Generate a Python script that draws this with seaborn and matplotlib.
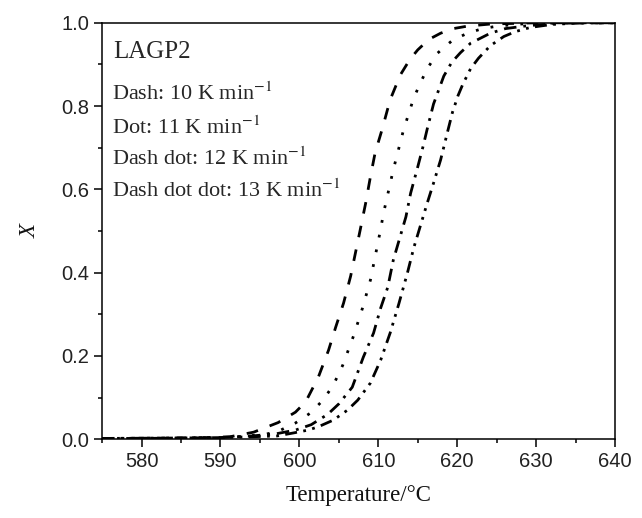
import matplotlib
matplotlib.use("Agg")
import matplotlib.pyplot as plt
import seaborn as sns
import pandas as pd
from matplotlib.ticker import MultipleLocator, FormatStrFormatter

# ---- data ----
t_10 = [575, 580, 585, 588, 591.2, 594.2, 597.3, 599.5, 600.8, 602.4, 603.7, 604.6, 605.6,
        606.5, 607.7, 608.4, 609.0, 609.6, 610.5, 611.5, 612.8, 614.0, 615.0, 616.4, 617.9,
        619.5, 621.3, 624.2, 630, 640]
x_10 = [0.002, 0.002, 0.003, 0.004, 0.006, 0.017, 0.040, 0.065, 0.090, 0.149, 0.214, 0.269, 0.327,
        0.392, 0.502, 0.567, 0.630, 0.688, 0.745, 0.815, 0.875, 0.912, 0.935, 0.960, 0.975,
        0.986, 0.992, 0.997, 1.0, 1.0]

t_11 = [575, 585, 590, 593, 595.7, 597.3, 599.5, 601.4, 603.0, 604.3, 605.5, 606.9, 608.0,
        609.0, 610.2, 610.7, 611.9, 613.2, 614.5, 615.4, 616.2, 617.5, 619.4, 621.3, 623.2,
        625.1, 628, 633, 640]
x_11 = [0.002, 0.003, 0.004, 0.007, 0.012, 0.019, 0.039, 0.063, 0.094, 0.130, 0.178, 0.250, 0.315,
        0.382, 0.495, 0.546, 0.647, 0.743, 0.820, 0.858, 0.890, 0.927, 0.958, 0.975, 0.986,
        0.992, 0.997, 1.0, 1.0]

t_12 = [575, 585, 590, 594, 597, 599.5, 601.5, 603.6, 605.0, 606.7, 608.1, 609.4, 610.3, 611.2,
        611.9, 613.5, 614.1, 615.0, 615.7, 616.2, 617.0, 618.3, 619.3, 620.4, 621.7, 624.2,
        626.1, 628.9, 633, 640]
x_12 = [0.002, 0.003, 0.004, 0.008, 0.013, 0.022, 0.035, 0.060, 0.085, 0.125, 0.197, 0.255, 0.315, 0.365,
        0.430, 0.534, 0.591, 0.654, 0.705, 0.745, 0.805, 0.872, 0.905, 0.928, 0.951, 0.975,
        0.986, 0.993, 0.999, 1.0]

t_13 = [575, 585, 590, 594, 597.2, 599.2, 601.1, 602.4, 604.3, 606.1, 607.4, 609.0, 610.3, 611.5,
        612.6, 613.7, 614.5, 616.2, 617.0, 617.9, 618.8, 619.4, 620.1, 620.7, 621.7, 622.7, 624.2,
        625.9, 627.4, 629.3, 632, 636, 640]
x_13 = [0.002, 0.003, 0.004, 0.006, 0.008, 0.015, 0.022, 0.030, 0.046, 0.070, 0.094, 0.135, 0.190, 0.255,
        0.325, 0.400, 0.460, 0.567, 0.615, 0.671, 0.740, 0.785, 0.825, 0.852, 0.890, 0.915, 0.945,
        0.967, 0.979, 0.989, 0.996, 1.0, 1.0]

rates = ["10", "11", "12", "13"]
label_lines = [r"Dash: 10 K min$^{-1}$", r"Dot: 11 K min$^{-1}$",
               r"Dash dot: 12 K min$^{-1}$", r"Dash dot dot: 13 K min$^{-1}$"]
x_ticks = [580, 590, 600, 610, 620, 630, 640]
y_ticks = [0.0, 0.2, 0.4, 0.6, 0.8, 1.0]

frames = []
for r, t, x in zip(rates, [t_10, t_11, t_12, t_13], [x_10, x_11, x_12, x_13]):
    frames.append(pd.DataFrame({"T": t, "X": x, "rate": r}))
df = pd.concat(frames, ignore_index=True)

# ---- style ----
sns.set_theme(style="ticks")
plt.rcParams["font.family"] = ["Liberation Sans", "DejaVu Sans"]
plt.rcParams["mathtext.fontset"] = "stix"
plt.rcParams["axes.linewidth"] = 1.1
plt.rcParams["xtick.direction"] = "out"
plt.rcParams["ytick.direction"] = "out"

fig = plt.figure(figsize=(6.42, 5.18), dpi=100)
ax = fig.add_axes([0.159, 0.152, 0.799, 0.804])

dash_map = {"10": (4.2, 4.5), "11": (1.0, 4.4),
            "12": (4.5, 2.5, 1.0, 2.5), "13": (4.3, 2.3, 1.0, 2.3, 1.0, 2.3)}
sns.lineplot(data=df, x="T", y="X", style="rate", dashes=dash_map, color="black",
             linewidth=2.0, estimator=None, legend=False, ax=ax)

ax.set_xlim(575, 640)
ax.set_ylim(0, 1.0)
ax.set_xticks(x_ticks)
ax.set_yticks(y_ticks)
ax.xaxis.set_minor_locator(MultipleLocator(5))
ax.yaxis.set_minor_locator(MultipleLocator(0.1))
ax.yaxis.set_major_formatter(FormatStrFormatter("%.1f"))
ax.tick_params(which="major", length=6, width=1.1, labelsize=14.5, pad=3, color="black",
               labelcolor="#222222")
ax.tick_params(which="minor", length=3.2, width=1.1, color="black")
for s in ax.spines.values():
    s.set_color("black")
    s.set_linewidth(1.1)

serif = ["Liberation Serif", "DejaVu Serif"]
ax.set_xlabel("Temperature/°C", fontsize=16.5, family=serif, labelpad=10, color="#111111")
ax.set_ylabel("X", fontsize=16.5, family=serif, style="italic", labelpad=15, color="#111111")

ax.text(576.4, 0.915, "LAGP2", fontsize=18, family=serif, va="baseline", ha="left")
for lab, yb in zip(label_lines, [0.814, 0.734, 0.658, 0.582]):
    ax.text(576.2, yb, lab, fontsize=16, family=serif, va="baseline", ha="left")

fig.savefig("out.png", dpi=100)
